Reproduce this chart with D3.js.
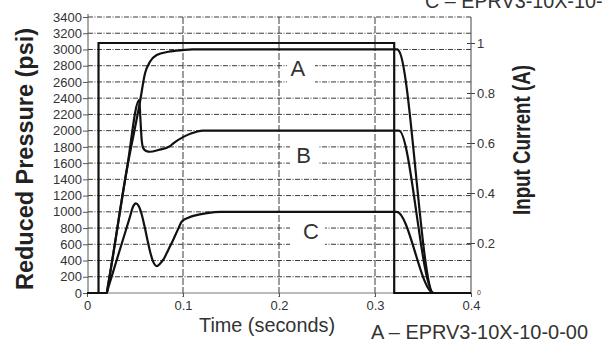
<!DOCTYPE html>
<html>
<head>
<meta charset="utf-8">
<script src="https://cdn.jsdelivr.net/npm/d3@7"></script>
<style>
  html, body { margin: 0; padding: 0; background: #fff; }
  svg { display: block; }
  text { font-family: "Liberation Sans", Arial, sans-serif; }
</style>
</head>
<body>
<svg id="chart" width="602" height="341"></svg>
<script>
// ---- data ----
const psiTicks = [0, 200, 400, 600, 800, 1000, 1200, 1400, 1600, 1800, 2000, 2200, 2400, 2600, 2800, 3000, 3200, 3400];
const timeTicks = [0, 0.1, 0.2, 0.3, 0.4];
const currentTicks = [0.2, 0.4, 0.6, 0.8, 1];

// Input current step (A)
const currentTime = [0, 0.012, 0.012, 0.32, 0.32, 0.4];
const currentVal  = [0, 0, 1, 1, 0, 0];

// Curve A (psi)
const timeA = [0, 0.0205, 0.022, 0.0414, 0.0552, 0.0604, 0.0656, 0.0726, 0.0847, 0.0997, 0.11, 0.323, 0.3245, 0.361, 0.4];
const psiA  = [0, 0, 100, 1515, 2356, 2705, 2849, 2931, 2972, 2992, 3000, 3000, 2990, 0, 0];

// Curve B (psi)
const timeB = [0, 0.0205, 0.022, 0.0414, 0.0545, 0.0556, 0.057, 0.0587, 0.062, 0.0656, 0.0743, 0.0865, 0.0899, 0.1, 0.109, 0.115, 0.121, 0.325, 0.361, 0.4];
const psiB  = [0, 0, 100, 1515, 2380, 2150, 1884, 1782, 1748, 1740, 1761, 1810, 1843, 1920, 1967, 1990, 2000, 2000, 0, 0];

// Curve C (psi)
const timeC = [0, 0.0205, 0.022, 0.03, 0.04, 0.0448, 0.048, 0.051, 0.054, 0.057, 0.06, 0.063, 0.066, 0.069, 0.0726, 0.076, 0.08, 0.085, 0.09, 0.095, 0.0986, 0.105, 0.114, 0.125, 0.139, 0.3226, 0.361, 0.4];
const psiC  = [0, 0, 60, 370, 755, 940, 1065, 1105, 1069, 967, 818, 651, 496, 383, 332, 360, 420, 540, 660, 790, 878, 925, 960, 985, 1000, 1000, 0, 0];

const curveLabels = ["A", "B", "C"];
const labelPsi = [2770, 1700, 760];
const labelTime = [0.2195, 0.2255, 0.2333];

const xTitle = "Time (seconds)";
const yTitle = "Reduced Pressure (psi)";
const y2Title = "Input Current (A)";
const noteBottom = "A – EPRV3-10X-10-0-00";
const noteTop = "C – EPRV3-10X-10-0-00";

// ---- scales ----
const svg = d3.select("#chart");
const x = d3.scaleLinear().domain([0, 0.4]).range([87, 471]);
const y = d3.scaleLinear().domain([0, 3400]).range([293, 17]);
const yc = d3.scaleLinear().domain([0, 1]).range([293, 43]);

// ---- grid ----
const grid = svg.append("g");
grid.selectAll("line.h").data(psiTicks.filter(d => d > 0)).join("line")
  .attr("x1", x(0) + 1).attr("x2", x(0.4))
  .attr("y1", d => y(d)).attr("y2", d => y(d))
  .attr("stroke", "#3a3a3a").attr("stroke-width", 1)
  .attr("stroke-dasharray", "5,1.5,1,1.5");
grid.selectAll("line.v").data(timeTicks.filter(d => d > 0 && d < 0.4)).join("line")
  .attr("x1", d => x(d)).attr("x2", d => x(d))
  .attr("y1", y(3400)).attr("y2", y(0) + 4)
  .attr("stroke", "#3a3a3a").attr("stroke-width", 1)
  .attr("stroke-dasharray", "7,2");

// ---- axes lines ----
svg.append("line").attr("x1", 88).attr("x2", 88).attr("y1", y(3400) - 3).attr("y2", y(0))
  .attr("stroke", "#555").attr("stroke-width", 1);
svg.append("line").attr("x1", x(0)).attr("x2", x(0.4)).attr("y1", y(0)).attr("y2", y(0))
  .attr("stroke", "#777").attr("stroke-width", 1.2);
svg.append("line").attr("x1", x(0.4)).attr("x2", x(0.4)).attr("y1", y(3400)).attr("y2", y(0))
  .attr("stroke", "#444").attr("stroke-width", 1);

// left axis
const yAxis = d3.axisLeft(y).tickValues(psiTicks).tickSize(5).tickPadding(1).tickFormat(d3.format("d"));
const gy = svg.append("g").attr("transform", "translate(88,0)").call(yAxis);
gy.select(".domain").remove();
gy.selectAll(".tick line").attr("stroke", "#555");
gy.selectAll(".tick text").attr("fill", "#333").style("font-family", "'Liberation Sans', Arial, sans-serif").style("font-size", "13px");

// bottom axis
const xAxis = d3.axisBottom(x).tickValues(timeTicks).tickSize(4).tickPadding(4).tickFormat(d => d === 0 ? "0" : d3.format(".1f")(d));
const gx = svg.append("g").attr("transform", `translate(0,${y(0)})`).call(xAxis);
gx.select(".domain").remove();
gx.selectAll(".tick line").attr("stroke", "#555");
gx.selectAll(".tick text").attr("fill", "#333").style("font-family", "'Liberation Sans', Arial, sans-serif").style("font-size", "13px");

// right axis
const y2Axis = d3.axisRight(yc).tickValues(currentTicks).tickSize(4).tickPadding(2).tickFormat(d => d === 1 ? "1" : d3.format(".1f")(d));
const gy2 = svg.append("g").attr("transform", `translate(${x(0.4)},0)`).call(y2Axis);
gy2.select(".domain").remove();
gy2.selectAll(".tick line").attr("stroke", "#444").attr("x1", -4);
gy2.selectAll(".tick text").attr("fill", "#333").style("font-family", "'Liberation Sans', Arial, sans-serif").style("font-size", "13px");
svg.append("text").attr("x", x(0.4) + 6).attr("y", yc(0)).attr("dy", "0.35em")
  .attr("fill", "#444").style("font-size", "7px").text("0");

// ---- label boxes ----
const boxes = svg.append("g");
const boxW = [28, 29, 35], boxX = [287, 290, 290];
curveLabels.forEach((lab, i) => {
  boxes.append("rect")
    .attr("x", boxX[i]).attr("width", boxW[i])
    .attr("y", y(labelPsi[i]) - 16).attr("height", 32)
    .attr("fill", "#fff");
  boxes.append("text")
    .attr("x", x(labelTime[i])).attr("y", y(labelPsi[i]))
    .attr("dy", "0.36em").attr("text-anchor", "middle")
    .attr("fill", "#333").style("font-size", "22px")
    .text(lab);
});

// ---- curves ----
const pts = (ts, vs) => ts.map((t, i) => [t, vs[i]]);
const linePsi = d3.line().x(d => x(d[0])).y(d => y(d[1])).curve(d3.curveMonotoneX);
const lineCur = d3.line().x(d => x(d[0])).y(d => yc(d[1]));

svg.append("path").datum(pts(currentTime, currentVal)).attr("d", lineCur)
  .attr("fill", "none").attr("stroke", "#111").attr("stroke-width", 2.2);
[[timeA, psiA], [timeB, psiB], [timeC, psiC]].forEach(([ts, vs]) => {
  svg.append("path").datum(pts(ts, vs)).attr("d", linePsi)
    .attr("fill", "none").attr("stroke", "#111").attr("stroke-width", 2.2)
    .attr("stroke-linejoin", "round");
});

// ---- titles ----
svg.append("text").attr("x", 267).attr("y", 332).attr("text-anchor", "middle")
  .attr("fill", "#333").style("font-size", "21px")
  .attr("textLength", 136).attr("lengthAdjust", "spacingAndGlyphs").text(xTitle);
svg.append("text").attr("transform", "translate(33,159) rotate(-90)").attr("text-anchor", "middle")
  .attr("fill", "#222").style("font-size", "23px").style("font-weight", "bold")
  .attr("textLength", 262).attr("lengthAdjust", "spacingAndGlyphs").text(yTitle);
svg.append("text").attr("transform", "translate(530,140) rotate(-90)").attr("text-anchor", "middle")
  .attr("fill", "#222").style("font-size", "23px").style("font-weight", "bold")
  .attr("textLength", 150).attr("lengthAdjust", "spacingAndGlyphs").text(y2Title);
svg.append("text").attr("x", 371).attr("y", 339)
  .attr("fill", "#333").style("font-size", "21px")
  .attr("textLength", 217).attr("lengthAdjust", "spacingAndGlyphs").text(noteBottom);
svg.append("text").attr("x", 425).attr("y", 8)
  .attr("fill", "#333").style("font-size", "21px")
  .attr("textLength", 217).attr("lengthAdjust", "spacingAndGlyphs").text(noteTop);
</script>
</body>
</html>
